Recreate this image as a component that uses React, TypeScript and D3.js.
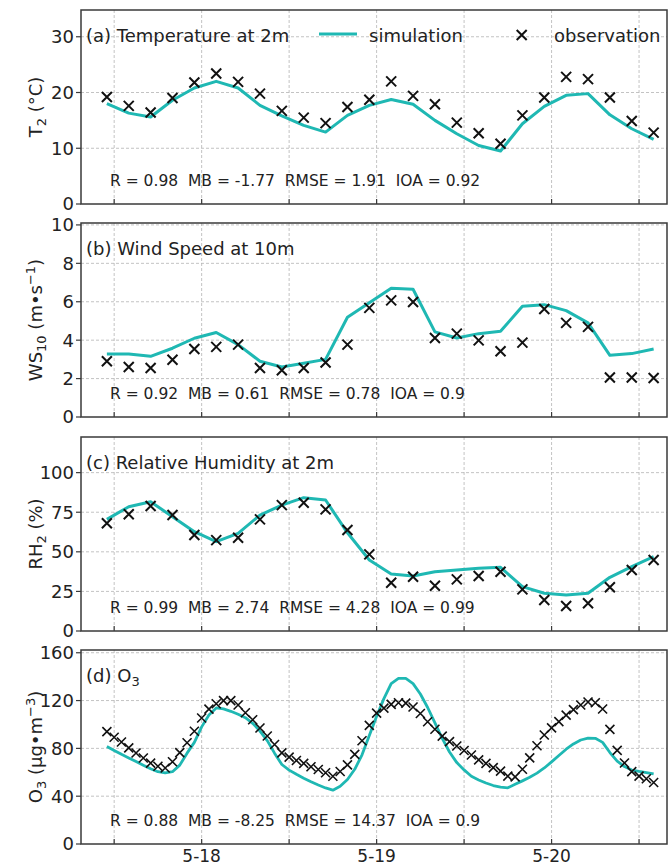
import React from "react";
import * as d3 from "d3";

// ---- data ----
const START = new Date(2021, 4, 17, 11); // 5-17 11:00
const T2_SIM = [18.0, 16.3, 15.6, 18.6, 20.8, 22.0, 20.8, 17.7, 15.8, 14.1, 12.9, 15.9, 17.7, 18.75, 17.9, 15.0, 12.6, 10.5, 9.5, 14.4, 17.5, 19.5, 19.8, 16.0, 13.5, 11.6];
const T2_OBS = [19.2, 17.6, 16.4, 19.0, 21.8, 23.4, 21.9, 19.8, 16.7, 15.5, 14.5, 17.4, 18.7, 22.0, 19.4, 17.9, 14.6, 12.7, 10.8, 15.9, 19.1, 22.8, 22.4, 19.1, 14.9, 12.8];
const WS_SIM = [3.28, 3.28, 3.16, 3.58, 4.1, 4.4, 3.77, 2.9, 2.6, 2.8, 3.0, 5.19, 5.95, 6.7, 6.65, 4.43, 4.11, 4.34, 4.46, 5.76, 5.85, 5.54, 4.9, 3.21, 3.3, 3.54];
const WS_OBS = [2.9, 2.6, 2.55, 2.98, 3.54, 3.65, 3.77, 2.55, 2.43, 2.55, 2.84, 3.77, 5.68, 6.07, 5.99, 4.11, 4.34, 3.99, 3.42, 3.87, 5.62, 4.9, 4.69, 2.06, 2.06, 2.03];
const RH_SIM = [70.5, 78.5, 81.6, 72.2, 62.7, 56.4, 61.7, 73.2, 79.5, 84.2, 82.7, 62.0, 44.8, 36.0, 34.7, 37.4, 38.5, 39.6, 40.2, 28.0, 23.8, 22.7, 23.8, 33.9, 40.6, 46.9];
const RH_OBS = [68.0, 73.7, 78.9, 73.2, 60.6, 57.4, 58.9, 70.5, 79.5, 81.0, 76.8, 63.8, 48.4, 30.5, 34.3, 28.6, 32.6, 34.7, 37.4, 26.3, 19.6, 15.8, 17.5, 27.6, 38.5, 44.8];
const O3_SIM = [81.5, 78.2, 75, 72, 69, 65.9, 63, 60.5, 59.5, 60.5, 66, 76, 85, 98, 108, 113.8, 113, 111, 108.5, 105.7, 101, 94.5, 86.5, 76, 66.5, 61.8, 58.3, 55, 52, 49.3, 46.9, 45, 48.3, 54, 62.5, 74.6, 90.8, 106.8, 121.6, 134.2, 138.6, 138.6, 134.2, 125.5, 114.2, 101.3, 88.3, 77, 68.1, 62, 56.7, 53.6, 51, 48.9, 47.5, 47, 49.9, 52.8, 55.8, 59.3, 63.6, 68.7, 74, 79.3, 83.7, 87, 88.5, 88.4, 85, 76.5, 69.3, 64.8, 61.9, 60.7, 59.7, 58.6];
const O3_OBS = [94, 89.3, 85.3, 80.4, 76.1, 71.9, 67.7, 65, 63.6, 68.8, 76.4, 84.7, 94.3, 105.4, 112.8, 117.3, 119.9, 120, 116.3, 109.8, 103.9, 97, 90.4, 83.2, 76.2, 72.7, 69.9, 67.5, 64.6, 62.3, 59.6, 56.7, 60.7, 66.2, 75, 86.4, 99.2, 109.5, 113.7, 116.8, 118.2, 117.9, 114.6, 109.2, 102.3, 96, 90.3, 85.6, 82, 78.2, 74.5, 70.4, 67.4, 63.9, 61, 56.8, 56.2, 62.5, 72.1, 82.2, 91.2, 97.2, 102.4, 107.8, 112.4, 116.3, 118.8, 118.2, 112.9, 95.9, 78.3, 67.8, 60.6, 56.8, 54.6, 51.5];

const TICKS_A = [0, 10, 20, 30];
const TICKS_B = [0, 2, 4, 6, 8, 10];
const TICKS_C = [0, 25, 50, 75, 100];
const TICKS_D = [0, 40, 80, 120, 160];
const X_TICK_LABELS = ["5-18", "5-19", "5-20"];
const STATS = [
  "R = 0.98  MB = -1.77  RMSE = 1.91  IOA = 0.92",
  "R = 0.92  MB = 0.61  RMSE = 0.78  IOA = 0.9",
  "R = 0.99  MB = 2.74  RMSE = 4.28  IOA = 0.99",
  "R = 0.88  MB = -8.25  RMSE = 14.37  IOA = 0.9",
];

const CYAN = "#1fb8b3";
const FRAME = "#3a3a3a";
const GRID = "#b4b4b4";
const FONT = "DejaVu Sans, sans-serif";

const L = 81, R = 667, PH = 194;

const times3 = T2_SIM.map((_, i) => d3.timeHour.offset(START, 3 * i));
const times1 = O3_SIM.map((_, i) => d3.timeHour.offset(START, i));

const x = d3.scaleTime()
  .domain([new Date(2021, 4, 17, 7, 27), new Date(2021, 4, 20, 15, 50)])
  .range([L, R]);
const gridTimes = x.ticks(d3.timeHour.every(12));

const panels = [
  { top: 10, yMax: 34.8, ticks: TICKS_A, sim: T2_SIM, obs: T2_OBS, t: times3, key: "a" },
  { top: 223, yMax: 10.1, ticks: TICKS_B, sim: WS_SIM, obs: WS_OBS, t: times3, key: "b" },
  { top: 437, yMax: 122.5, ticks: TICKS_C, sim: RH_SIM, obs: RH_OBS, t: times3, key: "c" },
  { top: 650, yMax: 162.3, ticks: TICKS_D, sim: O3_SIM, obs: O3_OBS, t: times1, key: "d" },
];

function Cross({ cx, cy, s, w }: { cx: number; cy: number; s: number; w: number }) {
  return (
    <path d={`M${cx - s},${cy - s}L${cx + s},${cy + s}M${cx - s},${cy + s}L${cx + s},${cy - s}`} stroke="#111" strokeWidth={w} fill="none" />
  );
}

function Title({ k }: { k: string }) {
  if (k === "a") return <>(a) Temperature at 2m</>;
  if (k === "b") return <>(b) Wind Speed at 10m</>;
  if (k === "c") return <>(c) Relative Humidity at 2m</>;
  return <>(d) O<tspan fontSize={13} dy={4}>3</tspan></>;
}

function YLabel({ k }: { k: string }) {
  const sub = (s: string) => (<><tspan fontSize={13} dy={4}>{s}</tspan><tspan dy={-4}> </tspan></>);
  if (k === "a") return <>T{sub("2")}(°C)</>;
  if (k === "b") return <>WS{sub("10")}(m•s<tspan fontSize={13} dy={-7}>−1</tspan><tspan dy={7}>)</tspan></>;
  if (k === "c") return <>RH{sub("2")}(%)</>;
  return <>O{sub("3")}(μg•m<tspan fontSize={13} dy={-7}>−3</tspan><tspan dy={7}>)</tspan></>;
}

export default function App() {
  return (
    <svg width={670} height={867} style={{ position: "absolute", left: 0, top: 0, background: "#fff" }} fontFamily={FONT}>
      <rect x={0} y={0} width={670} height={867} fill="#fff" />
      {panels.map((p, pi) => {
        const bottom = p.top + PH;
        const y = d3.scaleLinear().domain([0, p.yMax]).range([bottom, p.top]);
        const line = d3.line<number>().x((_, i) => x(p.t[i])).y((d) => y(d));
        const isD = p.key === "d";
        return (
          <g key={p.key}>
            {gridTimes.map((g, i) => (
              <line key={"vg" + i} x1={x(g)} x2={x(g)} y1={p.top} y2={bottom} stroke={GRID} strokeWidth={0.8} strokeDasharray="3,2" />
            ))}
            {p.ticks.filter((t) => t > 0).map((t) => (
              <line key={"hg" + t} x1={L} x2={R} y1={y(t)} y2={y(t)} stroke={GRID} strokeWidth={0.8} strokeDasharray="3,2" />
            ))}
            {gridTimes.map((g, i) => (
              <line key={"xt" + i} x1={x(g)} x2={x(g)} y1={bottom} y2={bottom - 5} stroke={FRAME} strokeWidth={1.2} />
            ))}
            {p.ticks.map((t) => (
              <g key={"yt" + t}>
                <line x1={L - 5} x2={L} y1={y(t)} y2={y(t)} stroke={FRAME} strokeWidth={1.2} />
                <text x={74} y={y(t)} dy="0.36em" textAnchor="end" fontSize={18} fill="#222">{t}</text>
              </g>
            ))}
            <path d={line(p.sim) || ""} fill="none" stroke={CYAN} strokeWidth={isD ? 2.8 : 3} strokeLinejoin="round" />
            {p.obs.map((v, i) => (
              <Cross key={"o" + i} cx={x(p.t[i])} cy={y(v)} s={isD ? 4.5 : 5} w={isD ? 1.6 : 2} />
            ))}
            <rect x={L} y={p.top} width={R - L} height={PH} fill="none" stroke={FRAME} strokeWidth={1.5} />
            <text x={86} y={p.top + 32} fontSize={18} fill="#222"><Title k={p.key} /></text>
            <text x={110} y={bottom - 18} fontSize={15.5} fill="#222" style={{ whiteSpace: "pre" }}>{STATS[pi]}</text>
            <text transform={`translate(42,${p.top + PH / 2}) rotate(-90)`} textAnchor="middle" fontSize={18} fill="#222">
              <YLabel k={p.key} />
            </text>
          </g>
        );
      })}
      <line x1={319} x2={357} y1={34} y2={34} stroke={CYAN} strokeWidth={3} />
      <text x={369} y={41.5} fontSize={18} fill="#222">simulation</text>
      <Cross cx={521.7} cy={35} s={5} w={2} />
      <text x={554} y={41.5} fontSize={18} fill="#222">observation</text>
      {X_TICK_LABELS.map((lab, i) => (
        <text key={lab} x={x(d3.timeDay.offset(new Date(2021, 4, 18), i))} y={862} textAnchor="middle" fontSize={17} fill="#222">{lab}</text>
      ))}
    </svg>
  );
}
